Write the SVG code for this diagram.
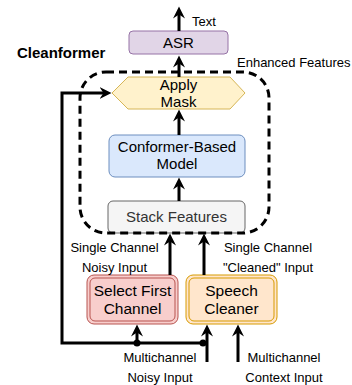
<svg xmlns="http://www.w3.org/2000/svg" width="352" height="385" viewBox="0 0 352 385">
<style>
  text { font-family: "Liberation Sans", Arial, sans-serif; fill: #000; }
  .lbl { font-size: 13px; }
  .box { font-size: 15px; text-anchor: middle; }
  .big { font-size: 15.5px; }
  .c { text-anchor: middle; }
  .conn { fill: none; stroke: #000; stroke-width: 3; }
</style>
<defs>
  <marker id="arr" markerUnits="userSpaceOnUse" markerWidth="13" markerHeight="13" viewBox="0 0 13 13" refX="6" refY="6.5" orient="auto">
    <path d="M0,0.5 L12,6.5 L0,12.5 L4,6.5 z" fill="#000"/>
  </marker>
</defs>
<rect width="352" height="385" fill="#fff"/>

<g id="cleanformer-label">
  <text x="17" y="58" style="font-size:15px;font-weight:bold">Cleanformer</text>
</g>

<g id="asr">
  <rect x="129" y="31" width="99" height="23" rx="4" fill="#e1d5e7" stroke="#9673a6"/>
  <text class="box" x="178.5" y="48">ASR</text>
</g>

<g id="apply-mask">
  <polygon points="112,93 128,77 230,77 245,93 230,109 128,109" fill="#fff2cc" stroke="#d6b656"/>
  <text class="box" x="178.5" y="90">Apply</text>
  <text class="box" x="178.5" y="107">Mask</text>
</g>

<g id="conformer">
  <rect x="109" y="135" width="136" height="42" rx="6" fill="#dae8fc" stroke="#6c8ebf"/>
  <text class="box" x="177" y="152">Conformer-Based</text>
  <text class="box" x="177" y="169">Model</text>
</g>

<g id="stack">
  <rect x="108" y="201" width="137" height="32" rx="5" fill="#f5f5f5" stroke="#666666"/>
  <text class="box" x="176.5" y="222" style="fill:#333333">Stack Features</text>
</g>

<g id="cleanformer-boundary">
  <rect x="80" y="72" width="189" height="161" rx="26" fill="none" stroke="#000" stroke-width="3" stroke-dasharray="8 5"/>
</g>

<g id="select-first">
  <rect x="87" y="275" width="91" height="49" rx="7" fill="#f8cecc" stroke="#b85450"/>
  <rect x="90" y="278" width="85" height="43" rx="5" fill="none" stroke="#b85450"/>
  <text class="box big" x="132.5" y="295.5">Select First</text>
  <text class="box big" x="132.5" y="313.5">Channel</text>
</g>

<g id="speech-cleaner">
  <rect x="186" y="275" width="91" height="49" rx="7" fill="#ffe6cc" stroke="#d79b00"/>
  <rect x="189" y="278" width="85" height="43" rx="5" fill="none" stroke="#d79b00"/>
  <text class="box big" x="231.5" y="295.5">Speech</text>
  <text class="box big" x="231.5" y="313.5">Cleaner</text>
</g>

<g id="connectors">
  <line class="conn" x1="179" y1="31" x2="179" y2="12.5" marker-end="url(#arr)"/>
  <line class="conn" x1="179" y1="77" x2="179" y2="61.5" marker-end="url(#arr)"/>
  <line class="conn" x1="179" y1="135" x2="179" y2="115.5" marker-end="url(#arr)"/>
  <line class="conn" x1="179" y1="201" x2="179" y2="183.5" marker-end="url(#arr)"/>
  <line class="conn" x1="170" y1="275" x2="170" y2="239.5" marker-end="url(#arr)"/>
  <line class="conn" x1="204" y1="275" x2="204" y2="239.5" marker-end="url(#arr)"/>
  <line class="conn" x1="207" y1="362" x2="207" y2="330.5" marker-end="url(#arr)"/>
  <polyline class="conn" points="202,343 62,343 62,93 105.5,93" marker-end="url(#arr)"/>
  <line class="conn" x1="137" y1="343" x2="137" y2="330.5" marker-end="url(#arr)"/>
  <line class="conn" x1="238" y1="362" x2="238" y2="330.5" marker-end="url(#arr)"/>
  <circle cx="137" cy="343" r="3.5" fill="#000"/>
  <circle cx="203" cy="343" r="3.5" fill="#000"/>
</g>

<g id="labels">
  <text class="lbl" x="192" y="25.5">Text</text>
  <text class="lbl" x="237" y="66.5">Enhanced Features</text>
  <text class="lbl c" x="114.5" y="251.5">Single Channel</text>
  <text class="lbl c" x="114.5" y="271.5">Noisy Input</text>
  <text class="lbl c" x="268" y="251.5">Single Channel</text>
  <text class="lbl c" x="268" y="271.5">"Cleaned" Input</text>
  <text class="lbl c" x="160" y="361.5">Multichannel</text>
  <text class="lbl c" x="160" y="381.5">Noisy Input</text>
  <text class="lbl c" x="284" y="361.5">Multichannel</text>
  <text class="lbl c" x="284" y="381.5">Context Input</text>
</g>
</svg>
